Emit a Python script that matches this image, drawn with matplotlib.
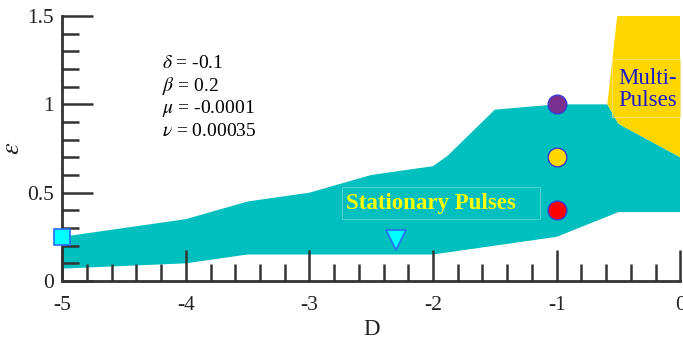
import matplotlib

matplotlib.use("Agg")
import matplotlib.pyplot as plt
from matplotlib.patches import Rectangle
from matplotlib.ticker import MultipleLocator

plt.rcParams["font.family"] = ["Liberation Serif", "DejaVu Serif"]
plt.rcParams["mathtext.fontset"] = "stix"

# stationary-pulse region: upper and lower edges of the band
upper_D = [-5.0, -4.0, -3.5, -3.0, -2.5, -2.0, -1.88, -1.5, -1.0, -0.59, -0.5, 0.0]
upper_eps = [0.25, 0.35, 0.45, 0.50, 0.60, 0.65, 0.71, 0.97, 1.00, 1.00, 0.89, 0.70]
lower_D = [-5.0, -4.0, -3.5, -2.0, -1.0, -0.5, 0.0]
lower_eps = [0.07, 0.10, 0.15, 0.15, 0.25, 0.39, 0.39]

# multi-pulse region (right top corner)
multi_D = [-0.51, 0.0, 0.0, -0.5, -0.59]
multi_eps = [1.5, 1.5, 0.70, 0.89, 1.00]

# sample points
circle_D = [-1.0, -1.0, -1.0]
circle_eps = [1.0, 0.7, 0.4]
circle_colors = ["#7b2f8e", "#ffd700", "#ff0000"]
square_pt = (-5.0, 0.25)
triangle_pt = (-2.3, 0.23)

params = [r"$\delta$ = -0.1", r"$\beta$ = 0.2", r"$\mu$ = -0.0001", r"$\nu$ = 0.00035"]

TEAL = "#00bfbf"
GOLD = "#ffd700"
INK = "#333333"

fig = plt.figure(figsize=(6.83, 3.41), dpi=100)
ax = fig.add_axes([0.091, 0.176, 0.905, 0.777])

band_x = upper_D + lower_D[::-1]
band_y = upper_eps + lower_eps[::-1]
ax.fill(band_x, band_y, color=TEAL, lw=0, zorder=1)
ax.fill(multi_D, multi_eps, color=GOLD, lw=0, zorder=1)

for d, e, c in zip(circle_D, circle_eps, circle_colors):
    ax.plot(d, e, "o", ms=13.5, mfc=c, mec="#3a3ad0", mew=1.0, zorder=5, clip_on=False)
ax.plot(*square_pt, "s", ms=11, mfc="#00ffff", mec="#2a6cf0", mew=1.2, zorder=5, clip_on=False)
ax.plot(*triangle_pt, "v", ms=14, mfc="#00ffff", mec="#2a6cf0", mew=1.2, zorder=5)

# region labels with their thin frames
ax.add_patch(Rectangle((-2.735, 0.351), 1.60, 0.181, fill=False,
                       ec="#5fd5d5", lw=0.6, zorder=4))
ax.text(-2.70, 0.44, "Stationary Pulses", color="#ffff00", fontsize=16.5,
        fontweight="bold", ha="left", va="center", zorder=6)
ax.add_patch(Rectangle((-0.55, 0.928), 0.55, 0.328, fill=False,
                       ec="#f3e27a", lw=0.6, zorder=4, clip_on=False))
ax.text(-0.505, 1.085, "Multi-\nPulses", color="#1a1acc", fontsize=16.5,
        ha="left", va="center", linespacing=1.05, zorder=6)

for i, s in enumerate(params):
    ax.text(-4.19, 1.234 - i * 0.13, s, fontsize=14, color="black",
            ha="left", va="center")

ax.set_xlim(-5, 0)
ax.set_ylim(0, 1.5)
ax.xaxis.set_minor_locator(MultipleLocator(0.2))
ax.yaxis.set_minor_locator(MultipleLocator(0.1))
ax.set_xticks([-5, -4, -3, -2, -1, 0], ["-5", "-4", "-3", "-2", "-1", "0"])
ax.set_yticks([0, 0.5, 1, 1.5], ["0", "0.5", "1", "1.5"])

ax.tick_params(which="both", direction="in", color=INK, width=1.8,
               labelsize=15.5, labelcolor="#222222", top=False, right=False)
ax.tick_params(which="major", length=22)
ax.tick_params(which="minor", length=12)
ax.tick_params(axis="x", which="major", pad=11)
ax.tick_params(axis="y", which="major", pad=6)

for side in ("top", "right"):
    ax.spines[side].set_visible(False)
for side in ("left", "bottom"):
    ax.spines[side].set_color(INK)
    ax.spines[side].set_linewidth(2)
    ax.spines[side].set_zorder(3)

ax.set_xlabel("D", fontsize=16.5, color="#222222")
ax.xaxis.set_label_coords(0.5, -0.145)
ax.set_ylabel(r"$\epsilon$", fontsize=19, color="#222222")
ax.yaxis.set_label_coords(-0.062, 0.5)

fig.savefig("out.png", dpi=100)
